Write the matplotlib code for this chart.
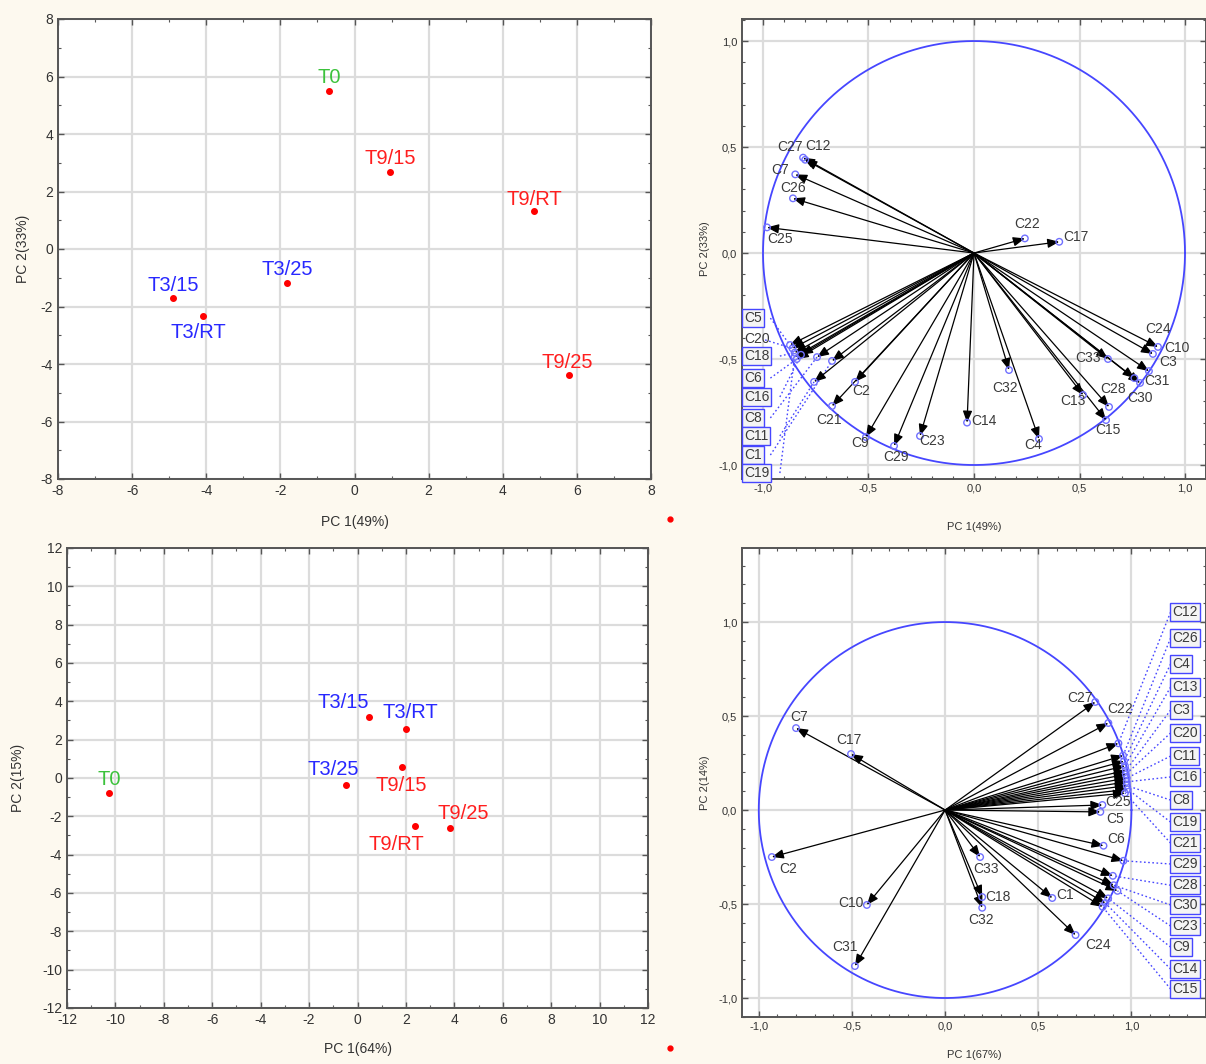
import numpy as np
import matplotlib
matplotlib.use("Agg")
from matplotlib import pyplot as plt
from matplotlib.lines import Line2D
from matplotlib.ticker import MultipleLocator, FuncFormatter

plt.rcParams['font.family'] = ['Liberation Sans', 'DejaVu Sans']
plt.rcParams['axes.unicode_minus'] = False

# sample scores, PCA 1 (49% / 33%)
samples = ["T0", "T9/15", "T9/RT", "T9/25", "T3/25", "T3/15", "T3/RT"]
s1_x = [-0.69, 0.96, 4.84, 5.79, -1.82, -4.90, -4.09]
s1_y = [5.50, 2.68, 1.32, -4.38, -1.18, -1.70, -2.33]

# sample scores, PCA 2 (64% / 15%)
s2_x = [-10.26, 1.84, 2.38, 3.83, -0.47, 0.48, 2.01]
s2_y = [-0.78, 0.58, -2.50, -2.61, -0.36, 3.18, 2.56]

# variable loadings, PCA 1
load1 = {
    "C27": (-0.81, 0.45), "C12": (-0.80, 0.44), "C7": (-0.847, 0.371),
    "C26": (-0.858, 0.258), "C25": (-0.981, 0.121), "C22": (0.241, 0.069),
    "C17": (0.404, 0.053), "C24": (0.872, -0.443), "C10": (0.848, -0.476),
    "C3": (0.829, -0.557), "C31": (0.787, -0.613), "C30": (0.76, -0.59),
    "C33": (0.635, -0.50), "C28": (0.64, -0.726), "C15": (0.626, -0.788),
    "C13": (0.517, -0.67), "C32": (0.166, -0.552), "C14": (-0.033, -0.80),
    "C4": (0.308, -0.877), "C23": (-0.256, -0.863), "C29": (-0.379, -0.910),
    "C9": (-0.512, -0.868), "C21": (-0.673, -0.722), "C2": (-0.564, -0.608),
    "C5": (-0.872, -0.434), "C20": (-0.86, -0.45), "C18": (-0.85, -0.47),
    "C6": (-0.84, -0.50), "C16": (-0.82, -0.48), "C8": (-0.744, -0.491),
    "C11": (-0.758, -0.608), "C1": (-0.673, -0.509), "C19": (-0.85, -0.49),
}

# variable loadings, PCA 2
load2 = {
    "C7": (-0.80, 0.436), "C17": (-0.505, 0.298), "C2": (-0.93, -0.25),
    "C10": (-0.42, -0.505), "C31": (-0.484, -0.83), "C27": (0.806, 0.575),
    "C22": (0.876, 0.463), "C25": (0.844, 0.027), "C5": (0.833, -0.01),
    "C6": (0.85, -0.19), "C33": (0.188, -0.25), "C18": (0.199, -0.463),
    "C32": (0.199, -0.52), "C1": (0.575, -0.468), "C24": (0.70, -0.665),
    "C12": (0.93, 0.355), "C26": (0.955, 0.29), "C4": (0.96, 0.26),
    "C13": (0.965, 0.235), "C3": (0.97, 0.21), "C20": (0.97, 0.19),
    "C11": (0.975, 0.17), "C16": (0.975, 0.15), "C8": (0.975, 0.13),
    "C19": (0.98, 0.11), "C21": (0.965, 0.09), "C29": (0.957, -0.27),
    "C28": (0.90, -0.35), "C30": (0.905, -0.40), "C23": (0.925, -0.43),
    "C9": (0.875, -0.47), "C14": (0.86, -0.495), "C15": (0.845, -0.515),
}

# label colours per sample
s_colors = ["#3cc23c", "#ff1e1e", "#ff1e1e", "#ff1e1e", "#2828ff", "#2828ff", "#2828ff"]

# label offsets in pixels
s1_off = [(0, 13), (0, 13), (0, 12), (-2, 12), (0, 13), (0, 12), (-5, -17)]
s2_off = [(0, 13), (-1, -19), (-19, -19), (13, 15), (-13, 15), (-26, 15), (4, 16)]

l1_off = {
    "C27": (-13, 11), "C12": (13, 14), "C7": (-15, 4), "C26": (0, 10),
    "C25": (13, -12), "C22": (2, 14), "C17": (17, 5), "C24": (0, 18),
    "C10": (24, 6), "C3": (19, 9), "C31": (17, 2), "C30": (6, -20),
    "C33": (-20, 1), "C28": (4, 18), "C13": (-10, -6), "C15": (2, -10),
    "C32": (-4, -18), "C14": (17, 2), "C4": (-6, -6), "C23": (12, -5),
    "C29": (2, -11), "C9": (-6, -6), "C21": (-3, -14), "C2": (6, -9),
    "C20": None,
}
# boxed labels: (y in data units)
box1 = {"C5": -0.307, "C18": -0.486, "C6": -0.59, "C16": -0.679,
        "C8": -0.778, "C11": -0.863, "C1": -0.953, "C19": -1.038}

l2_off = {
    "C7": (3, 11), "C17": (-2, 14), "C2": (16, -12), "C10": (-16, 2),
    "C31": (-10, 19), "C27": (-15, 4), "C22": (12, 14), "C25": (16, 3),
    "C5": (15, -7), "C6": (13, 7), "C33": (6, -12), "C18": (16, 0),
    "C32": (-1, -12), "C1": (13, 3), "C24": (23, -10),
}
box2 = {"C12": 1.053, "C26": 0.915, "C4": 0.777, "C13": 0.654, "C3": 0.532,
        "C20": 0.41, "C11": 0.287, "C16": 0.176, "C8": 0.053, "C19": -0.064,
        "C21": -0.176, "C29": -0.287, "C28": -0.40, "C30": -0.505,
        "C23": -0.617, "C9": -0.729, "C14": -0.846, "C15": -0.952}

W, H = 1206, 1064
BG = "#fdf9ef"
GRID = "#dcdcdc"
TXT = "#3a3a3a"
BLUE = "#4646ff"

fig = plt.figure(figsize=(W / 100, H / 100), dpi=100, facecolor=BG)


def rect(left, top, right, bottom):
    return [left / W, 1 - bottom / H, (right - left) / W, (bottom - top) / H]


def style(ax, major, minor, fmt, size):
    ax.set_facecolor("white")
    ax.xaxis.set_major_locator(MultipleLocator(major))
    ax.yaxis.set_major_locator(MultipleLocator(major))
    ax.xaxis.set_minor_locator(MultipleLocator(minor))
    ax.yaxis.set_minor_locator(MultipleLocator(minor))
    ax.xaxis.set_major_formatter(FuncFormatter(fmt))
    ax.yaxis.set_major_formatter(FuncFormatter(fmt))
    ax.tick_params(which="both", direction="in", top=True, right=True,
                   colors="#555555", labelcolor="#333333", labelsize=size)
    ax.tick_params(which="major", length=4, width=1)
    ax.tick_params(which="minor", length=2.5, width=0.8)
    ax.grid(True, which="major", color=GRID, lw=1.6)
    ax.set_axisbelow(True)
    for sp in ax.spines.values():
        sp.set_color("#555555")
        sp.set_linewidth(1.4)


def int_fmt(v, pos):
    return "%d" % round(v)


def dec_fmt(v, pos):
    return ("%.1f" % v).replace(".", ",").replace("-0,0", "0,0")


def score_panel(ax, xs, ys, offs):
    ax.plot(xs, ys, "o", color="#ff0000", ms=4, mec="#ff0000", zorder=3)
    for name, x, y, c, o in zip(samples, xs, ys, s_colors, offs):
        ax.annotate(name, (x, y), xytext=o, textcoords="offset pixels",
                    ha="center", va="center", fontsize=14.5, color=c)


def loading_panel(ax, load, offs, boxes, box_x, box_side):
    t = np.linspace(0, 2 * np.pi, 400)
    ax.plot(np.cos(t), np.sin(t), color=BLUE, lw=1.3, zorder=2)
    for name, (x, y) in load.items():
        ax.annotate("", xy=(x, y), xytext=(0, 0),
                    arrowprops=dict(arrowstyle="-|>,head_length=0.5,head_width=0.2",
                                    color="black", lw=0.9,
                                    mutation_scale=14, shrinkA=0, shrinkB=0),
                    zorder=3)
    xs = [v[0] for v in load.values()]
    ys = [v[1] for v in load.values()]
    ax.scatter(xs, ys, s=22, facecolors="none", edgecolors="#7070ff",
               lw=1.0, zorder=4)
    for name, o in offs.items():
        if o is None:
            continue
        ax.annotate(name, load[name], xytext=o, textcoords="offset pixels",
                    ha="center", va="center", fontsize=10, color=TXT, zorder=5)
    for name, by in boxes.items():
        px, py = load[name]
        if box_side == "left":
            sx = box_x + 0.035 + 0.045 * len(name)
        else:
            sx = box_x - 0.01
        ax.plot([sx, px], [by, py], ls=(0, (1.2, 1.8)), color=BLUE, lw=1.0,
                zorder=2)
        ax.text(box_x, by, name, ha="left", va="center", fontsize=10,
                color=TXT, zorder=6,
                bbox=dict(boxstyle="square,pad=0.15", fc="#f4f4f4",
                          ec=BLUE, lw=1.0))


# top-left: scores
ax1 = fig.add_axes(rect(58, 19, 651, 479))
style(ax1, 2, 1, int_fmt, 10)
ax1.set_xlim(-8, 8)
ax1.set_ylim(-8, 8)
score_panel(ax1, s1_x, s1_y, s1_off)
ax1.set_xlabel("PC 1(49%)", fontsize=10, color="#333333", labelpad=12)
ax1.set_ylabel("PC 2(33%)", fontsize=10, color="#333333", labelpad=8)

# top-right: loadings
ax2 = fig.add_axes(rect(742, 19, 1206, 479))
style(ax2, 0.5, 0.1, dec_fmt, 8)
ax2.set_xlim(-1.0995, 1.0995)
ax2.set_ylim(-1.066, 1.104)
loading_panel(ax2, load1, l1_off, box1, -1.09, "left")
ax2.text(-1.03, -0.406, "C20", ha="center", va="center", fontsize=10,
         color=TXT, zorder=6)
ax2.plot([-0.99, -0.86], [-0.41, -0.45], ls=(0, (1.2, 1.8)), color=BLUE,
         lw=1.0, zorder=2)
ax2.set_xlabel("PC 1(49%)", fontsize=8, color="#333333", labelpad=20)
ax2.set_ylabel("PC 2(33%)", fontsize=8, color="#333333", labelpad=6)

# bottom-left: scores
ax3 = fig.add_axes(rect(67, 548, 648, 1008))
style(ax3, 2, 1, int_fmt, 10)
ax3.set_xlim(-12, 12)
ax3.set_ylim(-12, 12)
score_panel(ax3, s2_x, s2_y, s2_off)
ax3.set_xlabel("PC 1(64%)", fontsize=10, color="#333333", labelpad=11)
ax3.set_ylabel("PC 2(15%)", fontsize=10, color="#333333", labelpad=12)

# bottom-right: loadings
ax4 = fig.add_axes(rect(742, 548, 1206, 1017))
style(ax4, 0.5, 0.1, dec_fmt, 8)
ax4.set_xlim(-1.09, 1.40)
ax4.set_ylim(-1.101, 1.394)
loading_panel(ax4, load2, l2_off, box2, 1.22, "right")
ax4.set_xlabel("PC 1(67%)", fontsize=8, color="#333333", labelpad=13)
ax4.set_ylabel("PC 2(14%)", fontsize=8, color="#333333", labelpad=6)

# stray legend markers
for py in (519, 1048):
    fig.add_artist(Line2D([670 / W], [1 - py / H], marker="o", ms=3.5,
                          color="#ff0000", transform=fig.transFigure))

fig.savefig("out.png", dpi=100, facecolor=BG)
